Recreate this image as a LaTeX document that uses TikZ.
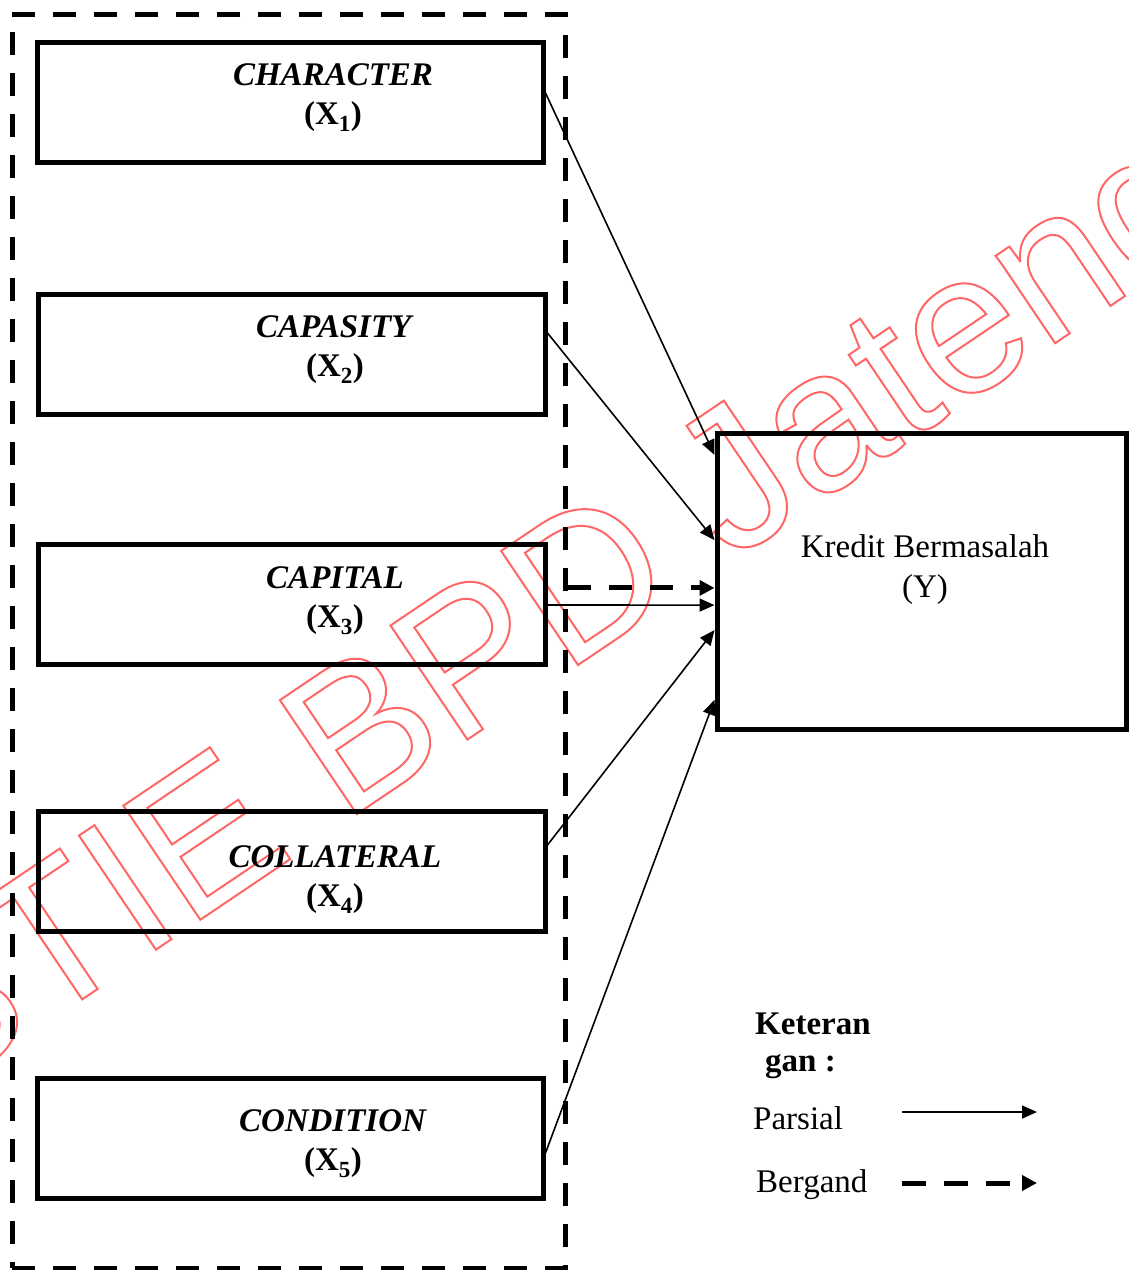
\documentclass[tikz,border=0pt]{standalone}
\usepackage{fontspec}
\setmainfont{Liberation Serif}
\newfontfamily\wmfont{Liberation Sans}
\usetikzlibrary{arrows.meta,calc}
\tikzset{
  varbox/.style={draw, line width=5pt, minimum width=506pt, minimum height=120pt, inner sep=0pt},
  ybox/.style={draw, line width=5pt, minimum width=409pt, minimum height=296pt, inner sep=0pt},
  frame/.style={draw, line width=5pt, dash pattern=on 23pt off 18pt, minimum width=553pt, minimum height=1254pt, inner sep=0pt},
  varlabel/.style={align=center, font=\fontsize{33}{39}\selectfont\bfseries, inner sep=0pt},
  plain/.style={align=center, font=\fontsize{33}{40}\selectfont, inner sep=0pt},
  partial/.style={line width=1.6pt, -{Triangle[length=15pt,width=13pt]}},
  joint/.style={line width=5pt, dash pattern=on 23pt off 18pt, -{Triangle[length=15pt,width=15pt]}},
  wm/.style={font=\wmfont\fontsize{200}{200}\selectfont, inner sep=0pt}
}
\begin{document}
\begin{tikzpicture}[x=1pt,y=-1pt]
\useasboundingbox (0,0) rectangle (1128,1270);
% watermark
\node[wm, rotate=34] (wmark) at (551,624) {\special{pdf:code q 1 Tr 2 w 1 0.4 0.4 RG}STIE BPD Jateng\special{pdf:code Q}};
% frame
\node[frame] (frame) at (288.5,641) {};
% variable boxes
\node[varbox, minimum width=506pt] (b1) at (290,102) {};
\node[varbox, minimum width=507pt] (b2) at (291.5,354) {};
\node[varbox, minimum width=507pt] (b3) at (291.5,604) {};
\node[varbox, minimum width=507pt] (b4) at (291.5,871) {};
\node[varbox, minimum width=506pt] (b5) at (290,1138) {};
\node[varlabel] (t1) at (333,98) {\textit{CHARACTER}\\(X\textsubscript{1})};
\node[varlabel] (t2) at (335,350) {\textit{CAPASITY}\\(X\textsubscript{2})};
\node[varlabel] (t3) at (335,600.5) {\textit{CAPITAL}\\(X\textsubscript{3})};
\node[varlabel] (t4) at (335,880) {\textit{COLLATERAL}\\(X\textsubscript{4})};
\node[varlabel] (t5) at (333,1144) {\textit{CONDITION}\\(X\textsubscript{5})};
% dependent
\node[ybox] (Y) at (921.5,581) {};
\node[plain] (ty) at (925,570) {Kredit Bermasalah\\(Y)};
% arrows
\coordinate (y1) at ($(Y.north west)!0.081!(Y.south west)$);
\coordinate (y2) at ($(Y.north west)!0.364!(Y.south west)$);
\coordinate (yj) at ($(Y.north west)!0.523!(Y.south west)$);
\coordinate (y3) at ($(Y.north west)!0.580!(Y.south west)$);
\coordinate (y4) at ($(Y.north west)!0.663!(Y.south west)$);
\coordinate (y5) at ($(Y.north west)!0.895!(Y.south west)$);
\draw[partial] ($(b1.north east)!0.428!(b1.south east)$) -- (y1);
\draw[partial] ($(b2.north east)!0.332!(b2.south east)$) -- (y2);
\draw[partial] ($(b3.north east)!0.508!(b3.south east)$) -- (y3);
\draw[partial] ($(b4.north east)!0.292!(b4.south east)$) -- (y4);
\draw[partial] ($(b5.north east)!0.620!(b5.south east)$) -- (y5);
\draw[joint] (frame.east |- yj) -- (yj);
% legend
\node[anchor=north west, align=left, inner sep=0pt, font=\fontsize{33}{37}\selectfont\bfseries] (leg) at (755,1012.5) {Keteran\\\hspace{10pt}gan :};
\node[anchor=base west, inner sep=0pt, font=\fontsize{33}{40}\selectfont] (lp) at (753,1129) {Parsial};
\node[anchor=base west, inner sep=0pt, font=\fontsize{33}{40}\selectfont] (lb) at (756,1192) {Bergand};
\coordinate (l1s) at (902,1112);
\coordinate (l1e) at (1037,1112);
\coordinate (l2s) at (902,1183);
\coordinate (l2e) at (1037,1183);
\draw[partial] (l1s) -- (l1e);
\draw[joint, dash pattern=on 24pt off 18pt] (l2s) -- (l2e);
\end{tikzpicture}
\end{document}
